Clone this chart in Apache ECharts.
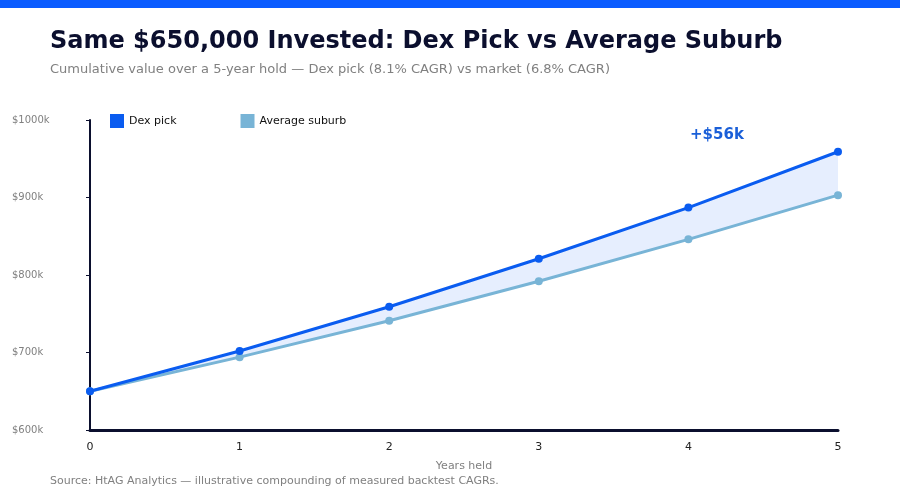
<!DOCTYPE html>
<html>
<head>
<meta charset="utf-8">
<script src="https://cdn.jsdelivr.net/npm/echarts@6/dist/echarts.min.js"></script>
<style>
  html, body { margin: 0; padding: 0; background: #fff; }
  #topbar { position: absolute; left: 0; top: 0; width: 900px; height: 8px; background: #0a5cff; }
  #chart { width: 900px; height: 500px; }
</style>
</head>
<body>
<div id="topbar"></div>
<div id="chart"></div>
<script>
var years = ['0', '1', '2', '3', '4', '5'];
var dexPick = [650000, 702000, 759000, 821000, 887000, 959000];
var avgSuburb = [650000, 694000, 741000, 792000, 846000, 903000];
var gapLabel = '+$56k';

var font = 'DejaVu Sans';
var chart = echarts.init(document.getElementById('chart'));

// gap between the two lines, stacked on top of the average line for the shaded band
var diff = [];
for (var i = 0; i < years.length; i++) diff.push(dexPick[i] - avgSuburb[i]);

var option = {
    textStyle: { fontFamily: font },
    title: [
        { text: 'Same $650,000 Invested: Dex Pick vs Average Suburb', left: 45, top: 25,
          textStyle: { fontFamily: font, fontSize: 24, fontWeight: 'bold', color: '#0b0f2e' } },
        { text: 'Cumulative value over a 5-year hold \u2014 Dex pick (8.1% CAGR) vs market (6.8% CAGR)', left: 45, top: 58,
          textStyle: { fontFamily: font, fontSize: 13, fontWeight: 'normal', color: '#808080' } },
        { text: 'Source: HtAG Analytics \u2014 illustrative compounding of measured backtest CAGRs.', left: 45, top: 471,
          textStyle: { fontFamily: font, fontSize: 11, fontWeight: 'normal', color: '#808080' } }
    ],
    legend: {
        left: 105, top: 109, itemWidth: 14, itemHeight: 14, itemGap: 64, icon: 'rect',
        data: ['Dex pick', 'Average suburb'],
        textStyle: { fontFamily: font, fontSize: 11, color: '#111' }
    },
    graphic: [{
        type: 'text', left: 690, top: 128,
        style: { text: gapLabel, font: 'bold 15px "DejaVu Sans"', fill: '#1a5fd8' }
    }],
    grid: { left: 90, right: 62, top: 120, bottom: 70 },
    xAxis: {
        type: 'category', data: years, boundaryGap: false,
        name: 'Years held', nameLocation: 'middle', nameGap: 31,
        nameTextStyle: { fontFamily: font, fontSize: 11, color: '#808080' },
        axisLine: { lineStyle: { color: '#0b0f2e', width: 3 } },
        axisTick: { show: false },
        axisLabel: { fontSize: 11, color: '#222', margin: 12 },
        splitLine: { show: false }
    },
    yAxis: {
        type: 'value', min: 600000, max: 1000000, interval: 100000,
        axisLine: { show: true, lineStyle: { color: '#0b0f2e', width: 2 } },
        axisTick: { show: true, length: 4, lineStyle: { color: '#0b0f2e' } },
        axisLabel: {
            fontSize: 10, color: '#808080', align: 'left', margin: 78,
            formatter: function (v) { return '$' + (v / 1000) + 'k'; }
        },
        splitLine: { show: false }
    },
    series: [
        { name: 'base', type: 'line', stack: 'band', data: avgSuburb, symbol: 'none',
          lineStyle: { opacity: 0 }, silent: true, z: 1 },
        { name: 'gap', type: 'line', stack: 'band', data: diff, symbol: 'none',
          lineStyle: { opacity: 0 }, areaStyle: { color: '#e6eefe', opacity: 1 }, silent: true, z: 1 },
        { name: 'Average suburb', type: 'line', data: avgSuburb, symbol: 'circle', symbolSize: 8,
          itemStyle: { color: '#78b4d6' }, lineStyle: { color: '#78b4d6', width: 3 }, z: 3 },
        { name: 'Dex pick', type: 'line', data: dexPick, symbol: 'circle', symbolSize: 8,
          itemStyle: { color: '#0a5cf0' }, lineStyle: { color: '#0a5cf0', width: 3 }, z: 4 }
    ]
};
chart.setOption(option);
</script>
</body>
</html>
